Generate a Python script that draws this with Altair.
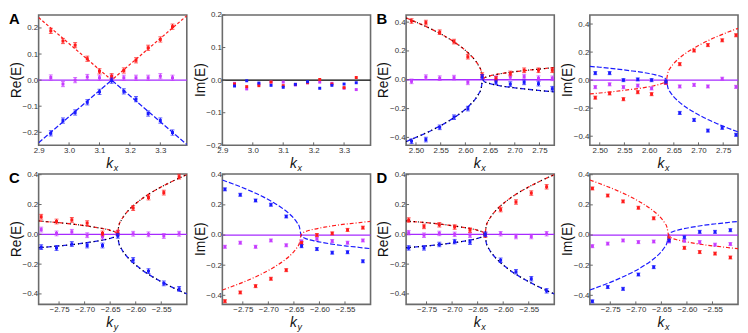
import altair as alt
import pandas as pd

# ---------------- data ----------------
# Panel A
A_K = [2.94, 2.98, 3.02, 3.06, 3.10, 3.14, 3.18, 3.22, 3.26, 3.30, 3.34]
A_RE_RED = [0.189, 0.150, 0.134, 0.082, 0.034, 0.015, 0.037, 0.076, 0.124, 0.156, 0.205]
A_RE_BLUE = [-0.204, -0.155, -0.124, -0.085, -0.045, -0.002, -0.043, -0.073, -0.128, -0.155, -0.201]
A_RE_MAG = [0.010, -0.015, 0.000, 0.012, 0.009, 0.010, 0.009, 0.009, 0.009, 0.015, 0.009]
A_IM_RED = [-0.012, -0.020, -0.017, -0.006, -0.017, -0.013, -0.008, 0.002, -0.012, -0.023, 0.008]
A_IM_BLUE = [-0.018, -0.002, -0.009, -0.016, -0.022, -0.013, -0.005, -0.025, -0.016, -0.012, -0.008]
A_IM_MAG = [-0.010, -0.027, -0.012, -0.006, -0.006, -0.015, -0.008, -0.006, -0.010, -0.025, -0.029]
A_CURVE_K = [2.90, 3.14, 3.387]
A_CURVE_RED = [0.240, 0.000, 0.247]
A_CURVE_BLUE = [-0.240, 0.000, -0.247]

# Panel B
B_K = [2.491, 2.520, 2.548, 2.577, 2.605, 2.634, 2.662, 2.691, 2.719, 2.748, 2.776]
B_RE_RED = [0.408, 0.397, 0.330, 0.265, 0.160, 0.033, 0.007, 0.044, 0.066, 0.066, 0.066]
B_RE_BLUE = [-0.426, -0.415, -0.330, -0.260, -0.200, 0.020, -0.018, -0.030, -0.018, -0.027, -0.062]
B_RE_MAG = [-0.011, 0.018, 0.011, 0.015, -0.018, 0.020, 0.011, 0.018, 0.022, 0.011, 0.010]
B_IM_RED = [-0.125, -0.095, -0.136, -0.086, -0.100, -0.018, 0.114, 0.211, 0.250, 0.284, 0.320]
B_IM_BLUE = [0.050, 0.050, 0.000, 0.005, 0.000, -0.011, -0.234, -0.284, -0.360, -0.340, -0.390]
B_IM_MAG = [-0.050, -0.030, -0.050, -0.039, -0.059, -0.020, -0.045, -0.034, -0.045, 0.010, -0.048]
B_CURVE_K = [2.48, 2.50, 2.52, 2.54, 2.56, 2.58, 2.60, 2.61, 2.62, 2.627, 2.632, 2.635,
             2.638, 2.643, 2.65, 2.66, 2.68, 2.70, 2.72, 2.74, 2.76, 2.78]
B_RE_UPPER = [0.429, 0.400, 0.370, 0.336, 0.299, 0.256, 0.204, 0.172, 0.134, 0.097, 0.060, 0.000,
              0.012, 0.020, 0.027, 0.035, 0.047, 0.056, 0.064, 0.071, 0.078, 0.084]
B_RE_LOWER = [-0.429, -0.400, -0.370, -0.336, -0.299, -0.256, -0.204, -0.172, -0.134, -0.097, -0.060, 0.000,
              -0.012, -0.020, -0.027, -0.035, -0.047, -0.056, -0.064, -0.071, -0.078, -0.084]
B_IM_CURVE_BLUE = [0.098, 0.092, 0.085, 0.077, 0.068, 0.059, 0.047, 0.040, 0.031, 0.022, 0.014, 0.000,
                   -0.053, -0.087, -0.119, -0.153, -0.206, -0.247, -0.283, -0.314, -0.343, -0.369]
B_IM_CURVE_RED = [-0.098, -0.092, -0.085, -0.077, -0.068, -0.059, -0.047, -0.040, -0.031, -0.022, -0.014, 0.000,
                  0.053, 0.087, 0.119, 0.153, 0.206, 0.247, 0.283, 0.314, 0.343, 0.369]

# Panel C
C_K = [-2.785, -2.755, -2.725, -2.695, -2.665, -2.635, -2.605, -2.575, -2.545, -2.515]
C_RE_RED = [0.118, 0.086, 0.097, 0.075, 0.006, 0.011, 0.176, 0.247, 0.280, 0.387]
C_RE_BLUE = [-0.086, -0.092, -0.065, -0.075, -0.075, -0.010, -0.172, -0.247, -0.329, -0.366]
C_RE_MAG = [0.032, 0.006, 0.017, -0.006, -0.015, 0.010, 0.004, 0.000, -0.011, 0.004]
C_IM_RED = [-0.439, -0.381, -0.339, -0.290, -0.233, -0.053, 0.000, 0.011, 0.034, 0.049]
C_IM_BLUE = [0.303, 0.267, 0.229, 0.201, 0.123, -0.074, -0.093, -0.117, -0.114, -0.174]
C_IM_MAG = [-0.078, -0.051, -0.078, -0.036, -0.068, -0.042, -0.025, -0.040, -0.051, -0.036]

# Panel D
D_K = [-2.785, -2.755, -2.725, -2.695, -2.665, -2.635, -2.605, -2.575, -2.545, -2.515]
D_RE_RED = [0.096, 0.053, 0.064, 0.049, 0.028, -0.006, 0.166, 0.217, 0.277, 0.319]
D_RE_BLUE = [-0.091, -0.091, -0.068, -0.049, -0.053, 0.000, -0.174, -0.251, -0.298, -0.379]
D_RE_MAG = [0.011, -0.006, 0.006, 0.000, -0.006, 0.000, 0.004, -0.015, -0.015, 0.004]
D_IM_RED = [0.309, 0.262, 0.223, 0.181, 0.111, -0.021, -0.085, -0.113, -0.123, -0.149]
D_IM_BLUE = [-0.440, -0.345, -0.357, -0.262, -0.213, -0.036, -0.015, 0.021, 0.021, 0.032]
D_IM_MAG = [-0.074, -0.057, -0.036, -0.047, -0.043, -0.043, -0.038, -0.047, -0.064, -0.060]

# theory curves for C and D
CD_CURVE_K = [-2.79, -2.77, -2.75, -2.73, -2.71, -2.69, -2.67, -2.66, -2.65, -2.644, -2.639, -2.636,
              -2.633, -2.628, -2.62, -2.61, -2.59, -2.57, -2.55, -2.53, -2.51, -2.50]
CD_RE_UPPER = [0.090, 0.084, 0.078, 0.071, 0.063, 0.053, 0.042, 0.036, 0.027, 0.021, 0.013, 0.000,
               0.059, 0.097, 0.137, 0.175, 0.233, 0.279, 0.318, 0.353, 0.385, 0.400]
CD_RE_LOWER = [-0.090, -0.084, -0.078, -0.071, -0.063, -0.053, -0.042, -0.036, -0.027, -0.021, -0.013, 0.000,
               -0.059, -0.097, -0.137, -0.175, -0.233, -0.279, -0.318, -0.353, -0.385, -0.400]
CD_IM_POS_LEFT = [0.365, 0.340, 0.314, 0.285, 0.253, 0.216, 0.171, 0.144, 0.110, 0.083, 0.051, 0.000,
                  -0.013, -0.022, -0.031, -0.039, -0.052, -0.063, -0.072, -0.079, -0.087, -0.090]
CD_IM_NEG_LEFT = [-0.365, -0.340, -0.314, -0.285, -0.253, -0.216, -0.171, -0.144, -0.110, -0.083, -0.051, 0.000,
                  0.013, 0.022, 0.031, 0.039, 0.052, 0.063, 0.072, 0.079, 0.087, 0.090]

# axes
A_X_TICKS = [2.9, 3.0, 3.1, 3.2, 3.3]
A_Y_TICKS = [-0.2, -0.1, 0.0, 0.1, 0.2]
B_X_TICKS = [2.50, 2.55, 2.60, 2.65, 2.70, 2.75]
CD_X_TICKS = [-2.75, -2.70, -2.65, -2.60, -2.55]
BCD_Y_TICKS = [-0.4, -0.2, 0.0, 0.2, 0.4]

# error half-widths
A_ERR, B_RE_ERR, B_IM_ERR, C_RE_ERR, C_IM_ERR, D_RE_ERR, D_IM_ERR = 0.010, 0.016, 0.011, 0.016, 0.010, 0.015, 0.010

# ---------------- styling ----------------
W, H = 150, 132
RED, BLUE, MAG, MAGLINE = "#ff1a1a", "#1a1aff", "#c63cff", "#a62bff"
FONT = "Liberation Sans"


def panel(x_dom, y_dom, x_ticks, y_ticks, x_fmt, series, err, curves, zero_color,
          ylab, xsub, letter=None):
    xs = alt.Scale(domain=x_dom, nice=False, zero=False)
    ys = alt.Scale(domain=y_dom, nice=False, zero=False)
    xa = alt.Axis(values=x_ticks, format=x_fmt, title=None, labelFlush=False, labelOverlap=False)
    ya = alt.Axis(values=y_ticks, format=".1f", title=None, labelOverlap=False)

    def X(f):
        return alt.X(f, type="quantitative", scale=xs, axis=xa)

    def Y(f):
        return alt.Y(f, type="quantitative", scale=ys, axis=ya)

    layers = []
    layers.append(alt.Chart(pd.DataFrame({"v": [0.0]})).mark_rule(color=zero_color, strokeWidth=1.3)
                  .encode(y=Y("v")))
    # inward ticks
    layers.append(alt.Chart(pd.DataFrame({"t": x_ticks})).mark_rule(color="#666", strokeWidth=1)
                  .encode(x=X("t"), y=alt.value(H), y2=alt.value(H - 3)))
    layers.append(alt.Chart(pd.DataFrame({"t": y_ticks})).mark_rule(color="#666", strokeWidth=1)
                  .encode(y=Y("t"), x=alt.value(0), x2=alt.value(3)))
    # theory curves
    for ks, vs, color, dash, width, interp in curves:
        df = pd.DataFrame({"k": ks, "v": vs})
        layers.append(alt.Chart(df).mark_line(color=color, strokeDash=dash, strokeWidth=width,
                                              interpolate=interp, clip=True)
                      .encode(x=X("k"), y=Y("v")))
    # measured points
    for ks, vs, color in series:
        df = pd.DataFrame({"k": ks, "v": vs})
        df["lo"] = df["v"] - err
        df["hi"] = df["v"] + err
        base = alt.Chart(df)
        if err > 0:
            layers.append(base.mark_rule(color=color, strokeWidth=1).encode(x=X("k"), y=Y("lo"), y2="hi"))
            layers.append(base.mark_tick(color=color, thickness=1, size=4, orient="horizontal")
                          .encode(x=X("k"), y=Y("lo")))
            layers.append(base.mark_tick(color=color, thickness=1, size=4, orient="horizontal")
                          .encode(x=X("k"), y=Y("hi")))
        layers.append(base.mark_square(size=9, color=color, opacity=1).encode(x=X("k"), y=Y("v")))

    txt = alt.Chart(pd.DataFrame({"a": [0]}))
    layers.append(txt.mark_text(text=ylab, angle=270, fontSize=14, font=FONT, color="#111",
                                align="center", baseline="middle")
                  .encode(x=alt.value(-22), y=alt.value(H / 2)))
    layers.append(txt.mark_text(text="k", fontSize=14, font=FONT, fontStyle="italic", color="#111",
                                align="center", baseline="alphabetic")
                  .encode(x=alt.value(W / 2 - 3), y=alt.value(H + 23)))
    layers.append(txt.mark_text(text=xsub, fontSize=9, font=FONT, fontStyle="italic", color="#111",
                                align="left", baseline="alphabetic")
                  .encode(x=alt.value(W / 2 + 1), y=alt.value(H + 26)))
    if letter:
        layers.append(txt.mark_text(text=letter, fontSize=15, font=FONT, fontWeight="bold", color="#000",
                                    align="left", baseline="alphabetic")
                      .encode(x=alt.value(-30), y=alt.value(9)))
    return alt.layer(*layers).properties(width=W, height=H)


RE_DASH_R = [4, 3]
RE_DASH_B = [5, 3]
DOT = [1, 3]
M = "monotone"

pA_re = panel([2.9, 3.387], [-0.25, 0.25], A_X_TICKS, A_Y_TICKS, ".1f",
              [(A_K, A_RE_MAG, MAG), (A_K, A_RE_RED, RED), (A_K, A_RE_BLUE, BLUE)], A_ERR,
              [(A_CURVE_K, A_CURVE_RED, RED, [3, 2], 1.2, "linear"),
               (A_CURVE_K, A_CURVE_BLUE, BLUE, [5, 2], 1.2, "linear")],
              MAGLINE, "Re(E)", "x", "A")
pA_im = panel([2.9, 3.387], [-0.2, 0.2], A_X_TICKS, A_Y_TICKS, ".1f",
              [(A_K, A_IM_MAG, MAG), (A_K, A_IM_RED, RED), (A_K, A_IM_BLUE, BLUE)], 0,
              [], "#000", "Im(E)", "x")
pB_re = panel([2.48, 2.78], [-0.455, 0.45], B_X_TICKS, BCD_Y_TICKS, ".2f",
              [(B_K, B_RE_MAG, MAG), (B_K, B_RE_RED, RED), (B_K, B_RE_BLUE, BLUE)], B_RE_ERR,
              [(B_CURVE_K, B_RE_UPPER, RED, RE_DASH_R, 1.3, M), (B_CURVE_K, B_RE_LOWER, BLUE, RE_DASH_B, 1.3, M),
               (B_CURVE_K, B_RE_UPPER, "#000", DOT, 1.2, M), (B_CURVE_K, B_RE_LOWER, "#000", DOT, 1.2, M)],
              MAGLINE, "Re(E)", "x", "B")
pB_im = panel([2.48, 2.78], [-0.465, 0.465], B_X_TICKS, BCD_Y_TICKS, ".2f",
              [(B_K, B_IM_MAG, MAG), (B_K, B_IM_RED, RED), (B_K, B_IM_BLUE, BLUE)], B_IM_ERR,
              [(B_CURVE_K, B_IM_CURVE_BLUE, BLUE, [5, 2], 1.2, M),
               (B_CURVE_K, B_IM_CURVE_RED, RED, [4, 2, 1, 2], 1.2, M)],
              MAGLINE, "Im(E)", "x")
pC_re = panel([-2.79, -2.50], [-0.47, 0.405], CD_X_TICKS, BCD_Y_TICKS, ".2f",
              [(C_K, C_RE_MAG, MAG), (C_K, C_RE_RED, RED), (C_K, C_RE_BLUE, BLUE)], C_RE_ERR,
              [(CD_CURVE_K, CD_RE_UPPER, RED, RE_DASH_R, 1.3, M), (CD_CURVE_K, CD_RE_LOWER, BLUE, RE_DASH_B, 1.3, M),
               (CD_CURVE_K, CD_RE_UPPER, "#000", DOT, 1.2, M), (CD_CURVE_K, CD_RE_LOWER, "#000", DOT, 1.2, M)],
              MAGLINE, "Re(E)", "y", "C")
pC_im = panel([-2.79, -2.50], [-0.46, 0.405], CD_X_TICKS, BCD_Y_TICKS, ".2f",
              [(C_K, C_IM_MAG, MAG), (C_K, C_IM_RED, RED), (C_K, C_IM_BLUE, BLUE)], C_IM_ERR,
              [(CD_CURVE_K, CD_IM_POS_LEFT, BLUE, [5, 2], 1.2, M),
               (CD_CURVE_K, CD_IM_NEG_LEFT, RED, [4, 2, 1, 2], 1.2, M)],
              MAGLINE, "Im(E)", "y")
pD_re = panel([-2.79, -2.50], [-0.47, 0.405], CD_X_TICKS, BCD_Y_TICKS, ".2f",
              [(D_K, D_RE_MAG, MAG), (D_K, D_RE_RED, RED), (D_K, D_RE_BLUE, BLUE)], D_RE_ERR,
              [(CD_CURVE_K, CD_RE_UPPER, RED, RE_DASH_R, 1.3, M), (CD_CURVE_K, CD_RE_LOWER, BLUE, RE_DASH_B, 1.3, M),
               (CD_CURVE_K, CD_RE_UPPER, "#000", DOT, 1.2, M), (CD_CURVE_K, CD_RE_LOWER, "#000", DOT, 1.2, M)],
              MAGLINE, "Re(E)", "x", "D")
pD_im = panel([-2.79, -2.50], [-0.46, 0.405], CD_X_TICKS, BCD_Y_TICKS, ".2f",
              [(D_K, D_IM_MAG, MAG), (D_K, D_IM_RED, RED), (D_K, D_IM_BLUE, BLUE)], D_IM_ERR,
              [(CD_CURVE_K, CD_IM_NEG_LEFT, BLUE, [5, 2], 1.2, M),
               (CD_CURVE_K, CD_IM_POS_LEFT, RED, [4, 2, 1, 2], 1.2, M)],
              MAGLINE, "Im(E)", "x")

chart = alt.concat(pA_re, pA_im, pB_re, pB_im, pC_re, pC_im, pD_re, pD_im,
                   columns=4, spacing={"row": 29, "column": 36}, bounds="flush").properties(
    padding=0
).configure_view(stroke="#6b6b6b", strokeWidth=1.6).configure_axis(
    domain=False, grid=False, ticks=False, labelFont=FONT, labelFontSize=8,
    labelColor="#333", labelPadding=1
)

chart.save("out.html", embed_options={"renderer": "svg", "actions": False})
